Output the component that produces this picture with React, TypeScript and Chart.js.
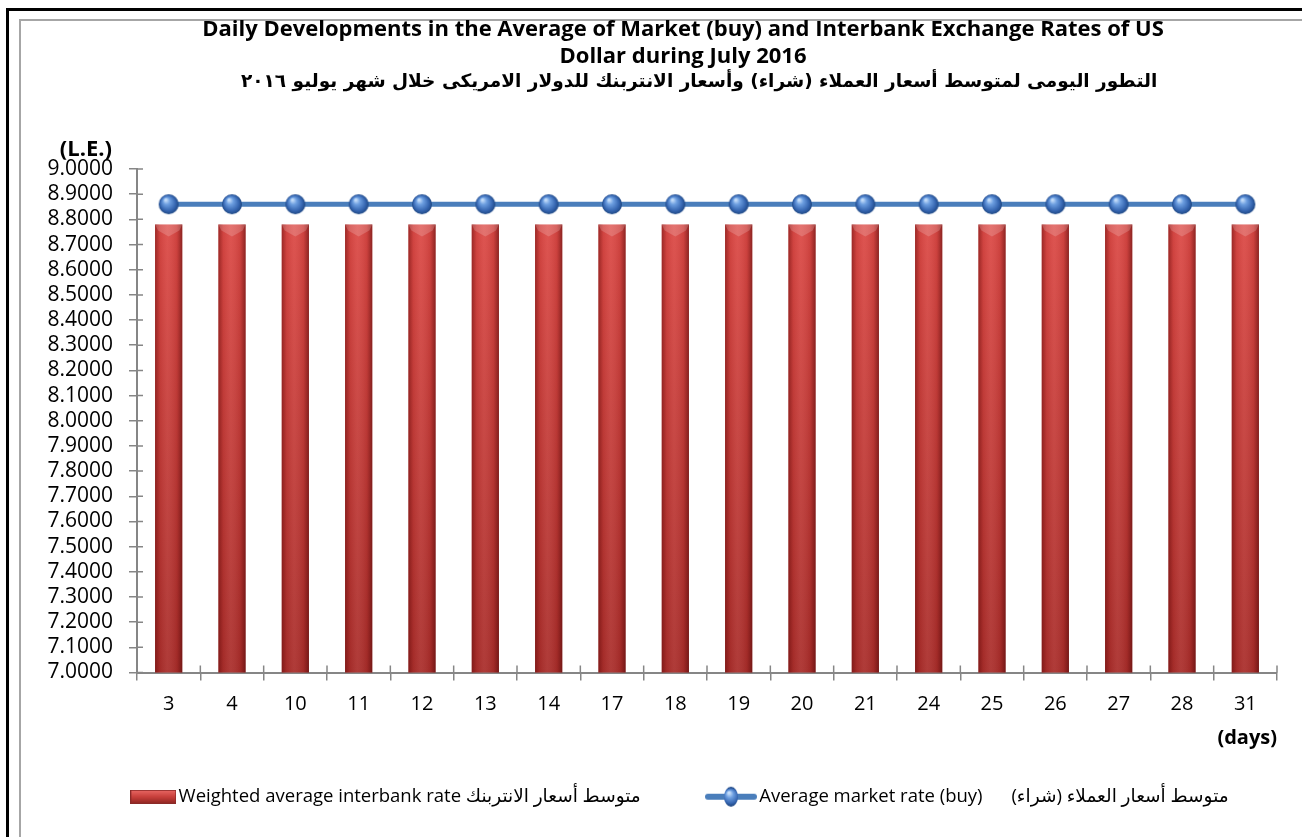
import React, { useEffect, useRef } from 'react';
import { Chart, registerables } from 'chart.js';

Chart.register(...registerables);

// ---------- data ----------
const DAYS = ['3', '4', '10', '11', '12', '13', '14', '17', '18', '19', '20', '21', '24', '25', '26', '27', '28', '31'];
const INTERBANK_RATE = [8.78, 8.78, 8.78, 8.78, 8.78, 8.78, 8.78, 8.78, 8.78, 8.78, 8.78, 8.78, 8.78, 8.78, 8.78, 8.78, 8.78, 8.78];
const MARKET_BUY_RATE = [8.86, 8.86, 8.86, 8.86, 8.86, 8.86, 8.86, 8.86, 8.86, 8.86, 8.86, 8.86, 8.86, 8.86, 8.86, 8.86, 8.86, 8.86];
const Y_MIN = 7.0;
const Y_MAX = 9.0;
const Y_STEP = 0.1;

const TITLE_EN = [
  'Daily Developments in the Average of Market (buy) and Interbank Exchange Rates of US',
  'Dollar during July 2016',
];
const TITLE_AR = '     التطور اليومى لمتوسط أسعار العملاء (شراء) وأسعار الانتربنك للدولار الامريكى خلال شهر يوليو ٢٠١٦';
const Y_UNIT = '(L.E.)';
const X_UNIT = '(days)';
const LEGEND_INTERBANK = 'Weighted average interbank rate متوسط أسعار الانتربنك';
const LEGEND_MARKET = 'Average market rate (buy)      متوسط أسعار العملاء (شراء)';

const FONT = "'Open Sans', 'DejaVu Sans', sans-serif";
const AR_FONT = "'DejaVu Sans', 'Noto Sans', sans-serif";
const AXIS_COLOR = '#868686';

function makeSphere(r: number): HTMLCanvasElement {
  const s = r * 2 + 2;
  const c = document.createElement('canvas');
  c.width = s;
  c.height = s;
  const g = c.getContext('2d')!;
  const cx = s / 2;
  const cy = s / 2;
  const grad = g.createRadialGradient(cx - r * 0.3, cy - r * 0.45, r * 0.08, cx, cy, r);
  grad.addColorStop(0, '#c4ddfa');
  grad.addColorStop(0.3, '#6c9ee0');
  grad.addColorStop(0.75, '#3565b0');
  grad.addColorStop(1, '#1f4884');
  g.fillStyle = grad;
  g.beginPath();
  g.arc(cx, cy, r, 0, Math.PI * 2);
  g.fill();
  return c;
}

function makeLineLegend(): HTMLCanvasElement {
  const c = document.createElement('canvas');
  c.width = 58;
  c.height = 22;
  const g = c.getContext('2d')!;
  g.strokeStyle = '#4a7ebb';
  g.lineWidth = 6;
  g.lineCap = 'round';
  g.beginPath();
  g.moveTo(3, 11);
  g.lineTo(49, 11);
  g.stroke();
  const grad = g.createRadialGradient(24, 7, 1, 26, 11, 9);
  grad.addColorStop(0, '#c4ddfa');
  grad.addColorStop(0.35, '#6c9ee0');
  grad.addColorStop(0.8, '#3565b0');
  grad.addColorStop(1, '#1f4884');
  g.fillStyle = grad;
  g.beginPath();
  g.ellipse(26, 11, 7, 10, 0, 0, Math.PI * 2);
  g.fill();
  return c;
}

function makeBarLegend(): HTMLCanvasElement {
  const c = document.createElement('canvas');
  c.width = 46;
  c.height = 14;
  const g = c.getContext('2d')!;
  const grad = g.createLinearGradient(0, 0, 0, 14);
  grad.addColorStop(0, '#ea6a66');
  grad.addColorStop(0.5, '#c9403c');
  grad.addColorStop(1, '#8e2421');
  g.fillStyle = grad;
  g.fillRect(0, 0, 46, 14);
  g.strokeStyle = '#8a2a28';
  g.lineWidth = 1;
  g.strokeRect(0.5, 0.5, 45, 13);
  return c;
}

const barShadePlugin = {
  id: 'barShade',
  afterDatasetDraw(chart: any, args: any) {
    if (args.meta.type !== 'bar') return;
    const ctx = chart.ctx;
    const area = chart.chartArea;
    ctx.save();
    for (const el of args.meta.data) {
      const { x, y, base, width } = el.getProps(['x', 'y', 'base', 'width'], true);
      const bottom = Math.min(base, area.bottom);
      const left = x - width / 2;
      const right = x + width / 2;
      const hg = ctx.createLinearGradient(left, 0, right, 0);
      hg.addColorStop(0, 'rgba(80,0,0,0.45)');
      hg.addColorStop(0.18, 'rgba(80,0,0,0.08)');
      hg.addColorStop(0.45, 'rgba(255,255,255,0.06)');
      hg.addColorStop(0.8, 'rgba(80,0,0,0.1)');
      hg.addColorStop(1, 'rgba(60,0,0,0.5)');
      ctx.fillStyle = hg;
      ctx.fillRect(left, y, width, bottom - y);
      ctx.fillStyle = 'rgba(255,255,255,0.18)';
      ctx.beginPath();
      ctx.moveTo(left, y);
      ctx.lineTo(right, y);
      ctx.lineTo(right - 3, y + 6);
      ctx.lineTo(x, y + 12);
      ctx.lineTo(left + 3, y + 6);
      ctx.closePath();
      ctx.fill();
    }
    ctx.restore();
  },
};

// widen the y scale's label clip box so that tick labels may extend into the left padding
const yLabelRoomPlugin = {
  id: 'yLabelRoom',
  afterLayout(chart: any) {
    const y = chart.scales.y;
    if (y) y.left = 0;
  },
};

// short inner parts of the tick marks (the reference's ticks cross the axis lines)
const innerTicksPlugin = {
  id: 'innerTicks',
  afterDraw(chart: any) {
    const ctx = chart.ctx;
    const a = chart.chartArea;
    const xs = chart.scales.x;
    const ys = chart.scales.y;
    ctx.save();
    ctx.strokeStyle = AXIS_COLOR;
    ctx.lineWidth = 1.5;
    ctx.beginPath();
    ys.ticks.forEach((_t: any, i: number) => {
      const py = ys.getPixelForTick(i);
      ctx.moveTo(a.left, py);
      ctx.lineTo(a.left + 6, py);
    });
    const n = xs.ticks.length;
    for (let i = 0; i <= n; i++) {
      let px;
      if (i === 0) px = a.left;
      else if (i === n) px = a.right;
      else px = (xs.getPixelForTick(i - 1) + xs.getPixelForTick(i)) / 2;
      ctx.moveTo(px, a.bottom);
      ctx.lineTo(px, a.bottom - 7);
    }
    ctx.stroke();
    ctx.restore();
  },
};

const unitLabelPlugin = {
  id: 'unitLabel',
  afterDraw(chart: any) {
    const ctx = chart.ctx;
    const a = chart.chartArea;
    ctx.save();
    ctx.font = `bold 22px ${FONT}`;
    ctx.fillStyle = '#000';
    ctx.textAlign = 'right';
    ctx.textBaseline = 'middle';
    ctx.fillText(Y_UNIT, a.left - 25, a.top - 19);
    ctx.restore();
  },
};

export default function App() {
  const ref = useRef<HTMLCanvasElement | null>(null);

  useEffect(() => {
    if (!ref.current) return;
    const sphere = makeSphere(10);
    const lineLegend = makeLineLegend();
    const barLegend = makeBarLegend();

    const chart = new Chart(ref.current, {
      type: 'bar',
      data: {
        labels: DAYS,
        datasets: [
          {
            type: 'bar',
            label: LEGEND_INTERBANK,
            data: INTERBANK_RATE,
            order: 1,
            backgroundColor: (c: any) => {
              const area = c.chart.chartArea;
              if (!area) return '#c0504d';
              const g = c.chart.ctx.createLinearGradient(0, area.top, 0, area.bottom);
              g.addColorStop(0, '#e24d49');
              g.addColorStop(1, '#aa2f2c');
              return g;
            },
            borderWidth: 0,
            categoryPercentage: 1,
            barPercentage: 0.43,
          },
          {
            type: 'line',
            label: LEGEND_MARKET,
            data: MARKET_BUY_RATE,
            order: 0,
            borderColor: '#4a7ebb',
            borderWidth: 5,
            pointStyle: sphere as any,
            pointRadius: 10,
            fill: false,
          },
        ] as any,
      },
      options: {
        animation: false,
        responsive: false,
        events: [],
        layout: { padding: { left: 89, right: 83, top: 0, bottom: 21 } },
        plugins: {
          tooltip: { enabled: false },
          title: {
            display: true,
            text: TITLE_EN,
            color: '#000',
            font: { family: FONT, size: 22, weight: 'bold', lineHeight: 1.2 },
            padding: { top: 17, bottom: 0 },
          },
          subtitle: {
            display: true,
            text: TITLE_AR,
            color: '#000',
            font: { family: AR_FONT, size: 18.5, weight: 'bold', lineHeight: 1.2 },
            padding: { top: 1, bottom: 76 },
          },
          legend: {
            position: 'bottom',
            labels: {
              usePointStyle: true,
              pointStyleWidth: 32,
              padding: 10,
              color: '#000',
              font: { family: FONT, size: 18.5 },
              generateLabels: () => [
                {
                  text: LEGEND_INTERBANK + ' '.repeat(14),
                  pointStyle: barLegend as any,
                  fillStyle: '#c0504d',
                  strokeStyle: '#c0504d',
                  lineWidth: 0,
                  hidden: false,
                  datasetIndex: 0,
                },
                {
                  text: LEGEND_MARKET,
                  pointStyle: lineLegend as any,
                  fillStyle: '#4a7ebb',
                  strokeStyle: '#4a7ebb',
                  lineWidth: 0,
                  hidden: false,
                  datasetIndex: 1,
                },
              ],
            },
          },
        },
        scales: {
          x: {
            grid: { drawOnChartArea: false, color: AXIS_COLOR, tickLength: 8, lineWidth: 1.5, offset: true },
            border: { color: AXIS_COLOR, width: 2 },
            ticks: { color: '#000', font: { family: FONT, size: 20 }, padding: 12, autoSkip: false, maxRotation: 0 },
            title: {
              display: true,
              text: X_UNIT,
              align: 'end',
              color: '#000',
              font: { family: FONT, size: 20, weight: 'bold' },
              padding: { top: -2, bottom: 27 },
            },
          },
          y: {
            min: Y_MIN,
            max: Y_MAX,
            grid: { drawOnChartArea: false, color: AXIS_COLOR, tickLength: 8, lineWidth: 1.5 },
            border: { color: AXIS_COLOR, width: 2 },
            ticks: {
              stepSize: Y_STEP,
              autoSkip: false,
              color: '#000',
              font: { family: FONT, size: 21 },
              padding: 16,
              callback: (v: any) => Number(v).toFixed(4),
            },
            afterFit: (s: any) => {
              s.width = 48;
            },
          },
        },
      } as any,
      plugins: [barShadePlugin, yLabelRoomPlugin, innerTicksPlugin, unitLabelPlugin],
    });
    return () => chart.destroy();
  }, []);

  return (
    <div style={{ position: 'fixed', left: 0, top: 0, width: 1302, height: 837, overflow: 'hidden', background: '#fff' }}>
      <div style={{ position: 'absolute', left: 6, top: 8, width: 1500, height: 1000, border: '3px solid #000' }} />
      <div style={{ position: 'absolute', left: 19, top: 19, width: 1500, height: 1000, border: '2px solid #a6a6a6' }} />
      <canvas ref={ref} width={1360} height={837} style={{ position: 'absolute', left: 0, top: 0, width: 1360, height: 837 }} />
    </div>
  );
}
